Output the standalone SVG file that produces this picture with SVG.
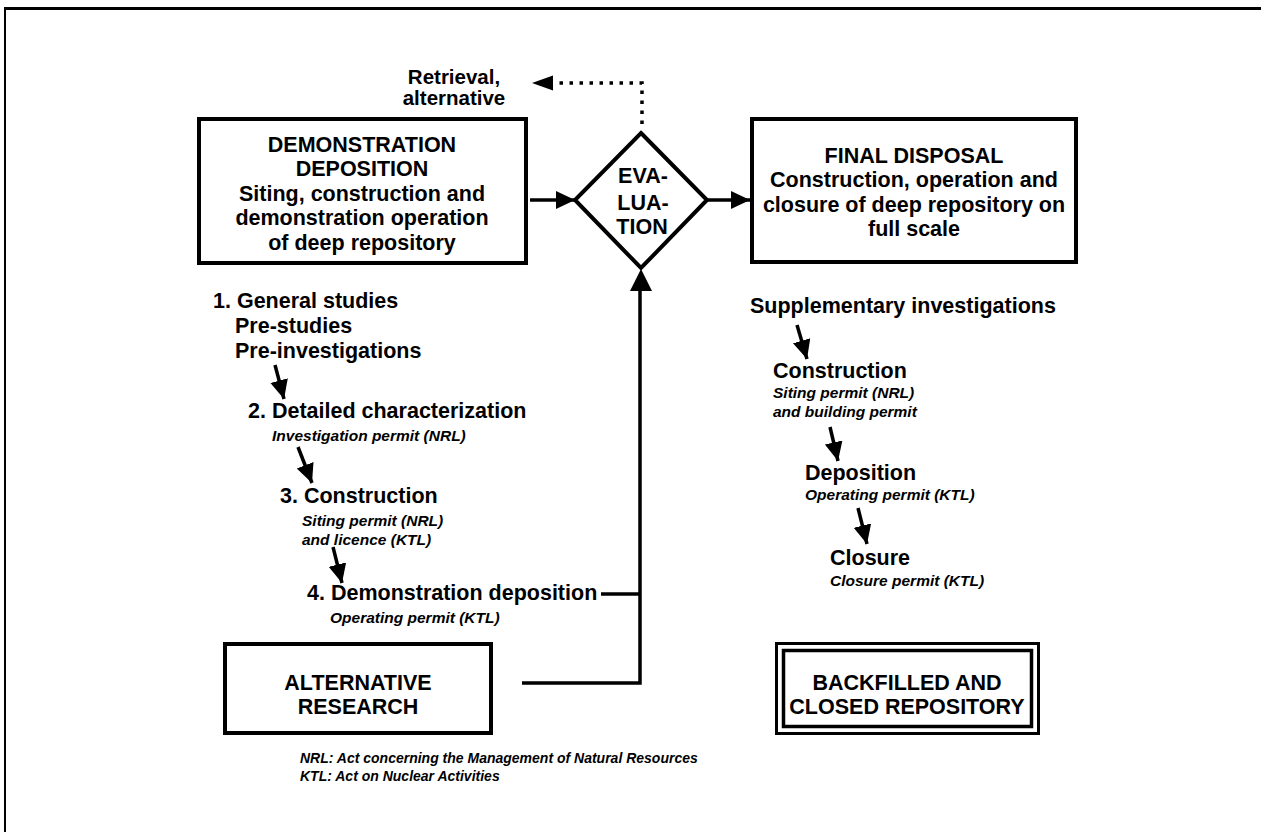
<svg xmlns="http://www.w3.org/2000/svg" width="1261" height="832" viewBox="0 0 1261 832">
  <style>
    .t { font-family: "Liberation Sans", Arial, sans-serif; font-weight: bold; font-size: 21.5px; fill: #000; }
    .s { font-size: 20.5px; }
    .c { text-anchor: middle; }
    .i { font-family: "Liberation Sans", Arial, sans-serif; font-weight: bold; font-style: italic; font-size: 15.5px; fill: #000; }
    .fn { font-family: "Liberation Sans", Arial, sans-serif; font-weight: bold; font-style: italic; font-size: 14px; fill: #000; }
    .box { fill: #fff; stroke: #000; stroke-width: 4; }
    .ln { fill: none; stroke: #000; stroke-width: 3.5; }
    .dot { fill: none; stroke: #000; stroke-width: 3.5; stroke-dasharray: 3.5 6.5; }
  </style>
  <defs>
    <marker id="head" markerUnits="userSpaceOnUse" markerWidth="20" markerHeight="20" refX="19" refY="9" orient="auto">
      <path d="M0,0 L19,9 L0,18 z" fill="#000"/>
    </marker>
  </defs>

  <!-- page frame -->
  <g id="frame">
    <line x1="4" y1="8.5" x2="1261" y2="8.5" stroke="#000" stroke-width="3"/>
    <line x1="5" y1="8" x2="5" y2="832" stroke="#000" stroke-width="2"/>
  </g>

  <!-- connectors -->
  <g id="connectors">
    <line class="ln" x1="530" y1="200" x2="575" y2="200" marker-end="url(#head)"/>
    <line class="ln" x1="707" y1="200" x2="750" y2="200" marker-end="url(#head)"/>
    <polyline class="dot" points="642,124 642,83 553,83"/>
    <path d="M532,83 L553,75.5 L553,90.5 z" fill="#000"/>
    <polyline class="ln" points="522,683 640,683 640,290"/>
    <line class="ln" x1="601" y1="594" x2="640" y2="594"/>
    <path d="M641,269 L652,291 L630,291 z" fill="#000"/>
    <!-- step arrows, left column -->
    <line class="ln" x1="275" y1="365" x2="284" y2="399" marker-end="url(#head)"/>
    <line class="ln" x1="298" y1="447" x2="312" y2="483" marker-end="url(#head)"/>
    <line class="ln" x1="333" y1="547" x2="342" y2="583" marker-end="url(#head)"/>
    <!-- step arrows, right column -->
    <line class="ln" x1="797" y1="325" x2="807" y2="359" marker-end="url(#head)"/>
    <line class="ln" x1="830" y1="427" x2="838" y2="461" marker-end="url(#head)"/>
    <line class="ln" x1="858" y1="508" x2="867" y2="544" marker-end="url(#head)"/>
  </g>

  <g id="retrieval">
    <text class="t s c" x="454" y="84">Retrieval,</text>
    <text class="t s c" x="454" y="105">alternative</text>
  </g>

  <g id="demonstration">
    <rect class="box" x="199" y="119" width="327" height="144"/>
    <text class="t c" x="362" y="152">DEMONSTRATION</text>
    <text class="t c" x="362" y="176">DEPOSITION</text>
    <text class="t c" x="362" y="201">Siting, construction and</text>
    <text class="t c" x="362" y="225">demonstration operation</text>
    <text class="t c" x="362" y="250">of deep repository</text>
  </g>

  <g id="evaluation">
    <polygon points="641,133 707,200 641,268 575,200" fill="#fff" stroke="#000" stroke-width="4"/>
    <text class="t c" x="643" y="183">EVA-</text>
    <text class="t c" x="643" y="210">LUA-</text>
    <text class="t c" x="642" y="234">TION</text>
  </g>

  <g id="final-disposal">
    <rect class="box" x="752" y="119" width="324" height="143"/>
    <text class="t c" x="914" y="163">FINAL DISPOSAL</text>
    <text class="t c" x="914" y="187">Construction, operation and</text>
    <text class="t c" x="914" y="212">closure of deep repository on</text>
    <text class="t c" x="914" y="236">full scale</text>
  </g>

  <g id="steps-demonstration">
    <text class="t" x="213" y="308">1. General studies</text>
    <text class="t" x="235" y="333">Pre-studies</text>
    <text class="t" x="235" y="358">Pre-investigations</text>
    <text class="t" x="248" y="418">2. Detailed characterization</text>
    <text class="i" x="272" y="441">Investigation permit (NRL)</text>
    <text class="t" x="280" y="503">3. Construction</text>
    <text class="i" x="302" y="526">Siting permit (NRL)</text>
    <text class="i" x="302" y="545">and licence (KTL)</text>
    <text class="t" x="307" y="600">4. Demonstration deposition</text>
    <text class="i" x="330" y="623">Operating permit (KTL)</text>
  </g>

  <g id="steps-final">
    <text class="t" x="750" y="313">Supplementary investigations</text>
    <text class="t" x="773" y="378">Construction</text>
    <text class="i" x="773" y="398">Siting permit (NRL)</text>
    <text class="i" x="773" y="417">and building permit</text>
    <text class="t" x="805" y="480">Deposition</text>
    <text class="i" x="805" y="500">Operating permit (KTL)</text>
    <text class="t" x="830" y="565">Closure</text>
    <text class="i" x="830" y="586">Closure permit (KTL)</text>
  </g>

  <g id="alternative-research">
    <rect class="box" x="225" y="644" width="266" height="89"/>
    <text class="t c" x="358" y="690">ALTERNATIVE</text>
    <text class="t c" x="358" y="714">RESEARCH</text>
  </g>

  <g id="closed-repository">
    <rect x="776.5" y="643.5" width="262" height="90" fill="#fff" stroke="#000" stroke-width="3"/>
    <rect x="783.5" y="650.5" width="248" height="76" fill="none" stroke="#000" stroke-width="3.5"/>
    <text class="t c" x="907" y="690">BACKFILLED AND</text>
    <text class="t c" x="907" y="714">CLOSED REPOSITORY</text>
  </g>

  <g id="legend">
    <text class="fn" x="300" y="763">NRL: Act concerning the Management of Natural Resources</text>
    <text class="fn" x="300" y="781">KTL: Act on Nuclear Activities</text>
  </g>
</svg>
